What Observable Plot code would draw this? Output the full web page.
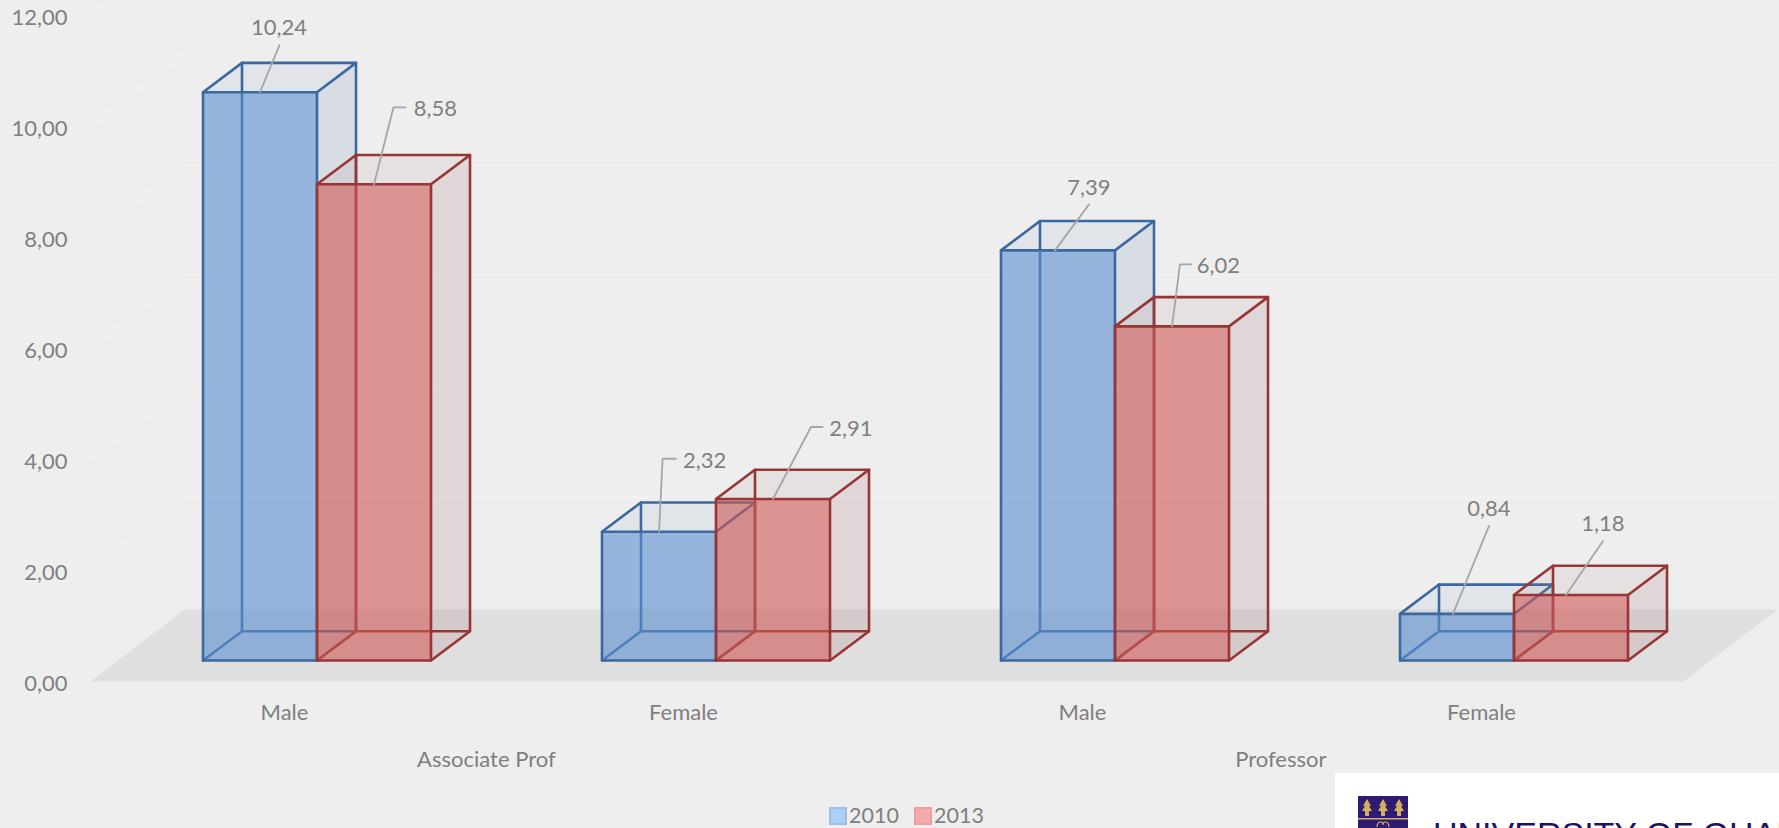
<!DOCTYPE html>
<html>
<head>
<meta charset="utf-8">
<script src="https://cdn.jsdelivr.net/npm/d3@7"></script>
<script src="https://cdn.jsdelivr.net/npm/@observablehq/plot@0.6"></script>
<style>
html,body{margin:0;padding:0;width:1779px;height:828px;overflow:hidden;background:#eeeeee;font-family:Lato,sans-serif}
#chart{position:absolute;left:0;top:0}
#chart svg{display:block}
.legend{position:absolute;top:804px;left:0;height:22px;font:21.5px Lato,sans-serif;color:#7f7f7f;line-height:22px;white-space:nowrap}
.sw{position:absolute;top:807px;width:14px;height:14px;border:2px solid}
.logo{position:absolute;left:1335px;top:773px;width:444px;height:55px;background:#fff;overflow:hidden}
.logo svg{position:absolute;left:23px;top:23px}
.logo span{position:absolute;left:98px;top:42px;font:34px "Liberation Sans",sans-serif;color:#1b1464;white-space:nowrap}
</style>
</head>
<body>
<div id="chart"></div>
<div class="sw" style="left:829px;background:#acd0f7;border-color:#9fbfe6"></div>
<div class="legend" style="left:849px">2010</div>
<div class="sw" style="left:914px;background:#f6acaa;border-color:#e89f9e"></div>
<div class="legend" style="left:934px">2013</div>
<div class="logo">
  <svg width="50" height="32" viewBox="0 0 50 32">
    <rect width="50" height="32" fill="#2f1c70"/>
    <rect y="22" width="50" height="1.5" fill="#d6ae62"/>
    <g fill="#d6ae62">
      <path d="M9 3 L13 10 L11 10 L14 15 L11 15 L11 20 L7 20 L7 15 L4 15 L7 10 L5 10 Z"/>
      <path d="M25 3 L29 10 L27 10 L30 15 L27 15 L27 20 L23 20 L23 15 L20 15 L23 10 L21 10 Z"/>
      <path d="M41 3 L45 10 L43 10 L46 15 L43 15 L43 20 L39 20 L39 15 L36 15 L39 10 L37 10 Z"/>
    </g>
    <path d="M19 31 q0 -5 4 -5 q2 0 2 3 q0 -3 2 -3 q4 0 4 5" fill="none" stroke="#d6ae62" stroke-width="1.2"/>
  </svg>
  <span>UNIVERSITY OF GHANA</span>
</div>
<script>
// ---- data ----
const groups = ["Associate Prof", "Professor"];
const genders = ["Male", "Female", "Male", "Female"];
const values2010 = [10.24, 2.32, 7.39, 0.84];
const values2013 = [8.58, 2.91, 6.02, 1.18];
const yTicks = [0, 2, 4, 6, 8, 10, 12];

// ---- scale set-up: one x unit = one cluster, one y unit = one axis unit ----
const W = 1779, H = 828;
const xDomain = [-0.5, 3.5], xRange = [117, 1713];
const yDomain = [0, 12], yRange = [681, 15];
const pxX = (xDomain[1] - xDomain[0]) / (xRange[1] - xRange[0]);
const pxY = (yDomain[1] - yDomain[0]) / (yRange[0] - yRange[1]);

// 3-D look of the original
const barW = 114 * pxX, depthX = 39 * pxX, depthY = 29.3 * pxY, lift = 21 * pxY;
const wallDX = 94 * pxX, floorDY = 72 * pxY, gridDY = 73 * pxY;
const floorLeft = -0.5 - 27 * pxX, floorRight = 3.5 - 30 * pxX;
const groupCenters = [0.4245, 2.4155];

const fmt = v => v.toFixed(2).replace(".", ",");

const palette = {
  2010: {stroke: "#3b689f", front: "#5a8fd2", top: "#829bc5", side: "#8096b7"},
  2013: {stroke: "#973535", front: "#d05855", top: "#ab8282", side: "#a8767b"}
};

// callout geometry per bar (screen-pixel offsets from the top of the bar's front face)
const callouts2010 = [
  {s: 0, pts: [[19.5, -47]], t: [19, -65]},
  {s: 0, pts: [[3.6, -73], [17, -73]], t: [45.6, -72]},
  {s: -3, pts: [[31, -46]], t: [31, -63]},
  {s: -4, pts: [[32, -88]], t: [32, -106]}
];
const callouts2013 = [
  {s: 0, pts: [[19.5, -77], [31.5, -77]], t: [61.5, -76]},
  {s: 0, pts: [[38, -72], [49.6, -72]], t: [78, -71.5]},
  {s: 0, pts: [[8, -62], [19, -62]], t: [46.5, -61]},
  {s: -5, pts: [[32, -54]], t: [32, -72]}
];

function barGeometry(i, which, v) {
  const x0 = i + (which - 1) * barW, x1 = x0 + barW;
  const b = lift, t = lift + v;
  return {x0, x1, b, t,
    top: [[x0, t], [x0 + depthX, t + depthY], [x1 + depthX, t + depthY], [x1, t], [x0, t]],
    side: [[x1, t], [x1 + depthX, t + depthY], [x1 + depthX, b + depthY], [x1, b], [x1, t]],
    backEdges: [
      [[x0 + depthX, t + depthY], [x0 + depthX, b + depthY], [x1 + depthX, b + depthY]],
      [[x0, b], [x0 + depthX, b + depthY]]
    ],
    front: [[x0, b], [x0, t], [x1, t], [x1, b], [x0, b]]
  };
}

const toRows = (pts, id) => pts.map(([x, y]) => ({x, y, id}));
const marks = [];

// floor
marks.push(Plot.line(toRows([
  [floorLeft, 0], [floorLeft + wallDX, floorDY], [floorRight + wallDX, floorDY], [floorRight, 0], [floorLeft, 0]
], "floor"), {x: "x", y: "y", fill: "#dfdfdf", stroke: "none"}));

// faint 3-D gridlines on wall
const grid = yTicks.slice(1).flatMap(v => toRows([
  [floorLeft, v], [floorLeft + wallDX, v + gridDY], [floorRight + wallDX, v + gridDY]
], "g" + v));
marks.push(Plot.line(grid, {x: "x", y: "y", z: "id", stroke: "#f1f1f1", strokeWidth: 2}));

// bars
[[values2010, 0, "2010"], [values2013, 1, "2013"]].forEach(([vals, which, yr]) => {
  const c = palette[yr];
  vals.forEach((v, i) => {
    const g = barGeometry(i, which, v);
    marks.push(Plot.line(toRows(g.top, "t"), {x: "x", y: "y", fill: c.top, fillOpacity: 0.12, stroke: "none"}));
    marks.push(Plot.line(toRows(g.side, "s"), {x: "x", y: "y", fill: c.side, fillOpacity: 0.2, stroke: "none"}));
    g.backEdges.forEach(e => marks.push(Plot.line(toRows(e, "b"), {x: "x", y: "y", stroke: c.stroke, strokeWidth: 2.6})));
    marks.push(Plot.line(toRows(g.front, "f"), {x: "x", y: "y", fill: c.front, fillOpacity: 0.6, stroke: "none"}));
    marks.push(Plot.line(toRows(g.front, "o"), {x: "x", y: "y", stroke: c.stroke, strokeWidth: 2.6, strokeLinejoin: "miter"}));
    marks.push(Plot.line(toRows(g.top.slice(0, 4), "o"), {x: "x", y: "y", stroke: c.stroke, strokeWidth: 2.6}));
    marks.push(Plot.line(toRows([g.side[1], g.side[2], g.side[3]], "o"), {x: "x", y: "y", stroke: c.stroke, strokeWidth: 2.6}));
  });
});

// call-outs
[[values2010, 0, callouts2010], [values2013, 1, callouts2013]].forEach(([vals, which, calls]) => {
  vals.forEach((v, i) => {
    const g = barGeometry(i, which, v);
    const cx = (g.x0 + g.x1) / 2, c = calls[i];
    const pts = [[cx + c.s * pxX, g.t]].concat(c.pts.map(([dx, dy]) => [cx + dx * pxX, g.t - dy * pxY]));
    marks.push(Plot.line(toRows(pts, "l"), {x: "x", y: "y", stroke: "#a6a6a6", strokeWidth: 1.8}));
    marks.push(Plot.text([{x: cx + c.t[0] * pxX, y: g.t - c.t[1] * pxY, label: fmt(v)}],
      {x: "x", y: "y", text: "label", fill: "#7f7f7f", fontSize: 22, dy: 1, textAnchor: "middle"}));
  });
});

// category labels
const catOffset = -32.5 * pxX;
marks.push(Plot.text(genders.map((g, i) => ({x: i + catOffset, y: -31.5 * pxY, g})),
  {x: "x", y: "y", text: "g", fill: "#7f7f7f", fontSize: 22}));
marks.push(Plot.text(groups.map((g, i) => ({x: groupCenters[i], y: -78 * pxY, g})),
  {x: "x", y: "y", text: "g", fill: "#7f7f7f", fontSize: 22}));

// y axis
marks.push(Plot.axisY({ticks: yTicks, tickFormat: fmt, tickSize: 0, tickPadding: 0, label: null, fontSize: 22, dy: 2.5, fill: "#7f7f7f", textStroke: "none"}));

const chart = Plot.plot({
  width: W, height: H,
  marginLeft: 67, marginTop: 0, marginRight: 0, marginBottom: 0,
  x: {domain: xDomain, range: xRange, axis: null},
  y: {domain: yDomain, range: yRange},
  style: {background: "#eeeeee", fontFamily: "Lato, sans-serif"},
  marks
});
document.getElementById("chart").appendChild(chart);
</script>
</body>
</html>
